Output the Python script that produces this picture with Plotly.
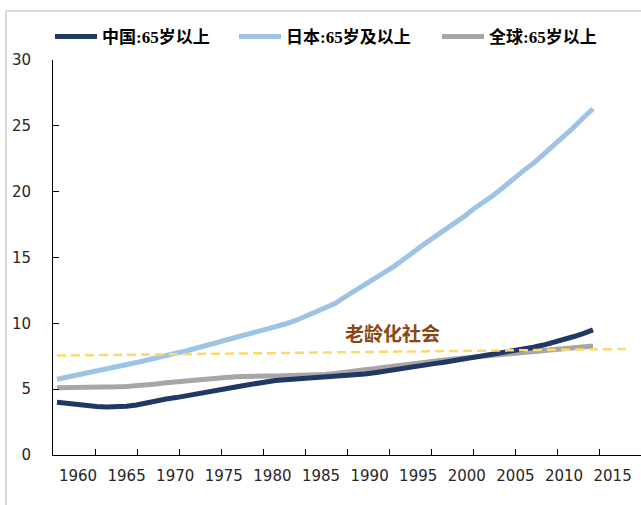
import plotly.graph_objects as go

# Share of population aged 65+ (%), 1960-2014
years = list(range(1960, 2015))

china_65 = [4.0, 3.9, 3.8, 3.72, 3.68, 3.65, 3.66, 3.7, 3.8, 3.98,
            4.15, 4.25, 4.36, 4.48, 4.6, 4.75, 4.88, 5.02, 5.16, 5.3,
            5.45, 5.58, 5.66, 5.72, 5.77, 5.8, 5.83, 5.87, 5.92, 5.98,
            6.05, 6.15, 6.25, 6.35, 6.47, 6.58, 6.69, 6.82, 6.94, 7.05,
            7.17, 7.3, 7.43, 7.57, 7.7, 7.84, 7.93, 8.03, 8.18, 8.35,
            8.53, 8.75, 8.98, 9.22, 9.5]

japan_65 = [5.75, 5.9, 6.05, 6.2, 6.35, 6.5, 6.68, 6.86, 7.02, 7.2,
            7.4, 7.58, 7.74, 7.9, 8.1, 8.3, 8.52, 8.74, 8.95, 9.12,
            9.35, 9.55, 9.72, 9.95, 10.2, 10.5, 10.8, 11.1, 11.5, 12.0,
            12.45, 12.9, 13.35, 13.85, 14.35, 14.9, 15.5, 16.02, 16.55, 17.05,
            17.55, 18.1, 18.7, 19.2, 19.75, 20.35, 21.0, 21.6, 22.15, 22.8,
            23.5, 24.15, 24.85, 25.6, 26.3]

world_65 = [5.1, 5.1, 5.1, 5.1, 5.12, 5.14, 5.18, 5.21, 5.25, 5.32,
            5.4, 5.48, 5.56, 5.63, 5.7, 5.76, 5.82, 5.88, 5.94, 5.98,
            6.0, 6.0, 6.0, 6.01, 6.02, 6.04, 6.07, 6.12, 6.2, 6.3,
            6.4, 6.5, 6.6, 6.7, 6.78, 6.87, 6.97, 7.06, 7.14, 7.22,
            7.3, 7.37, 7.44, 7.5, 7.57, 7.64, 7.72, 7.78, 7.85, 7.91,
            7.97, 8.04, 8.12, 8.2, 8.28]

# "aged society" reference line
threshold_years = [1960, 2017.3]
threshold_values = [7.55, 8.05]
threshold_label = "老龄化社会"
threshold_label_pos = (1993.8, 9.27)

series_names = ["中国:65岁以上", "日本:65岁及以上", "全球:65岁以上"]
x_tick_years = list(range(1960, 2016, 5))
y_ticks = [0, 5, 10, 15, 20, 25, 30]

# ---- page geometry (pixels) ----
W, H = 641, 505
ML, MR, MT, MB = 53, 0, 60, 50
PW, PH = W - ML - MR, H - MT - MB


def px_x(px):
    return (px - ML) / PW


def px_y(py):
    return (H - MB - py) / PH


# data axis: first year at x=57, last year at x=593
ppy = (593 - 57) / (years[-1] - years[0])
data_range = [years[0] - (57 - ML) / ppy, years[0] + (W - MR - 57) / ppy]
# label axis: 1960 centred at x=78, 2015 at x=612.6
ppy2 = (612.6 - 78) / (2015 - 1960)
label_range = [1960 - (78 - ML) / ppy2, 1960 + (W - MR - 78) / ppy2]

NAVY = "#1F3864"
LIGHT_BLUE = "#9DC3E6"
GREY = "#A6A6A6"
GOLD = "#FFD966"

fig = go.Figure()

fig.add_trace(go.Scatter(x=years, y=japan_65, name=series_names[1], mode="lines",
                         line=dict(color=LIGHT_BLUE, width=5), legend="legend2"))
fig.add_trace(go.Scatter(x=years, y=world_65, name=series_names[2], mode="lines",
                         line=dict(color=GREY, width=5), legend="legend3"))
fig.add_trace(go.Scatter(x=years, y=china_65, name=series_names[0], mode="lines",
                         line=dict(color=NAVY, width=5), legend="legend"))
fig.add_trace(go.Scatter(x=threshold_years, y=threshold_values, mode="lines",
                         line=dict(color=GOLD, width=2.5, dash="9px,5px"),
                         showlegend=False, hoverinfo="skip"))

legend_font = dict(family="Liberation Serif, Noto Sans CJK SC", size=17,
                   color="#000000", weight="bold")
legend_common = dict(orientation="h", yanchor="middle", xanchor="left",
                     y=px_y(37), font=legend_font, bgcolor="rgba(0,0,0,0)",
                     itemwidth=42, borderwidth=0)

fig.update_layout(
    width=W, height=H,
    margin=dict(l=ML, r=MR, t=MT, b=MB, pad=0),
    paper_bgcolor="white", plot_bgcolor="white",
    showlegend=True,
    legend=dict(x=px_x(50), **legend_common),
    legend2=dict(x=px_x(234), **legend_common),
    legend3=dict(x=px_x(437), **legend_common),
    xaxis=dict(range=data_range, visible=False, showgrid=False, zeroline=False),
    xaxis2=dict(range=label_range, overlaying="x", anchor="y", side="bottom",
                tickvals=x_tick_years, ticks="", showline=False, showgrid=False,
                zeroline=False, ticklabelstandoff=10,
                tickfont=dict(family="DejaVu Sans", size=15, color="#262626")),
    xaxis3=dict(domain=[0, px_x(600)], range=[0, 14], anchor="y",
                overlaying="x", tickvals=list(range(1, 15)), ticks="inside",
                ticklen=6, tickcolor="#000000", showline=True, linecolor="#000000",
                linewidth=1, showticklabels=False, showgrid=False, zeroline=False),
    yaxis=dict(range=[0, 30], tickvals=y_ticks, ticks="inside", ticklen=6,
               tickcolor="#000000", showline=True, linecolor="#000000", linewidth=1,
               showgrid=False, zeroline=False, ticklabelstandoff=18,
               tickfont=dict(family="DejaVu Sans", size=15, color="#262626")),
    annotations=[dict(x=threshold_label_pos[0], y=threshold_label_pos[1],
                      xref="x", yref="y", text=threshold_label, showarrow=False,
                      font=dict(family="Noto Sans CJK SC", size=19,
                                color="#8B4513", weight="bold"))],
    shapes=[
        dict(type="line", xref="paper", yref="paper", x0=px_x(6), x1=px_x(6),
             y0=px_y(11), y1=px_y(H + 5), line=dict(color="#D9D9D9", width=2)),
        dict(type="line", xref="paper", yref="paper", x0=px_x(6), x1=px_x(W + 5),
             y0=px_y(11), y1=px_y(11), line=dict(color="#D9D9D9", width=2)),
    ],
)

# the label axis carries no data of its own; give it an invisible anchor trace
fig.add_trace(go.Scatter(x=[x_tick_years[0]], y=[None], xaxis="x2", showlegend=False,
                         hoverinfo="skip"))
fig.add_trace(go.Scatter(x=[1], y=[None], xaxis="x3", showlegend=False,
                         hoverinfo="skip"))

fig.write_html("out.html")
